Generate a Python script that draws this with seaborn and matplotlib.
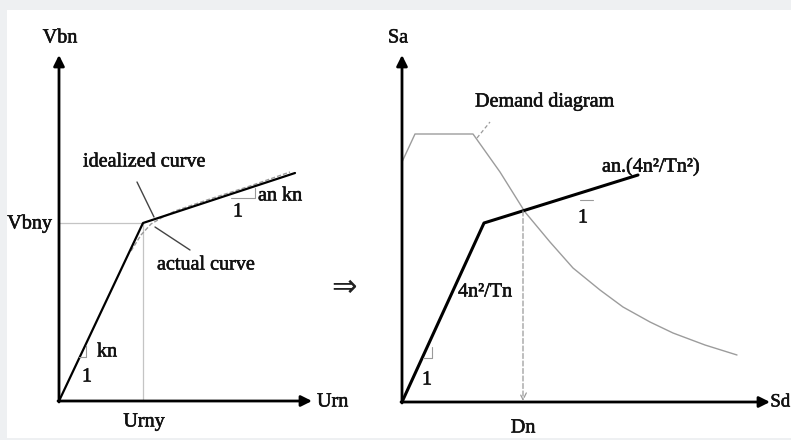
import matplotlib
matplotlib.use("Agg")
import matplotlib.pyplot as plt
import matplotlib.patheffects as pe
from matplotlib.patches import Rectangle
import seaborn as sns

sns.set_theme(style="white")
plt.rcParams["font.family"] = ["Liberation Serif", "DejaVu Sans"]

# ---- Left panel: pushover curve (base shear vs roof displacement) ----
axis_len_u, axis_len_v = 253, 346
urny, vbny = 84, 178                      # yield point
ideal_u = [0, urny, 236]
ideal_v = [0, vbny, 228]
actual_u = [72, 82, 92, 104, 116, 151, 191, 231]
actual_v = [150, 166, 177, 184, 190, 202, 215, 229]

# ---- Right panel: capacity diagram vs demand diagram (ADRS) ----
axis_len_d, axis_len_a = 368, 347
cap_d = [0, 82, 236]
cap_a = [0, 179, 227]
dem_d = [0, 13, 71, 98, 123, 148, 171, 198, 221, 248, 271, 303, 335]
dem_a = [240, 268, 268, 230, 190, 160, 134, 112, 95, 80, 69, 57, 47]
dn = 121                                  # performance point displacement
dn_sa = 191

W, H = 791, 440
fig = plt.figure(figsize=(W / 100, H / 100), dpi=100)
fig.patch.set_facecolor("#eef0f2")
fig.add_artist(Rectangle((7 / W, 2 / H), 1 - 7 / W, 428 / H,
                         transform=fig.transFigure, facecolor="white",
                         edgecolor="none", zorder=0))

FS = 14.5
TXT = dict(fontsize=FS, color="#111111",
           path_effects=[pe.withStroke(linewidth=0.4, foreground="#111111")])
axkw = dict(arrowstyle="-|>", lw=2.0, color="black", mutation_scale=16,
            shrinkA=0, shrinkB=0)


def panel(ox, oy):
    ax = fig.add_axes([0, 0, 1, 1])
    ax.set_xlim(-ox, W - ox)
    ax.set_ylim(-(H - oy), oy)
    ax.set_facecolor("none")
    ax.axis("off")
    return ax


# ================= left =================
axL = panel(59, 401)
axL.annotate("", xy=(axis_len_u, 0), xytext=(-1, 0), arrowprops=axkw)
axL.annotate("", xy=(0, axis_len_v), xytext=(0, -1), arrowprops=axkw)

axL.plot([0, urny], [vbny, vbny], color="#c4c4c4", lw=0.9)
axL.plot([urny, urny], [0, vbny], color="#c4c4c4", lw=0.9)

sns.lineplot(x=actual_u, y=actual_v, ax=axL, sort=False, estimator=None,
             color="#9a9a9a", lw=1.0, linestyle=(0, (3, 1.5)))
sns.lineplot(x=ideal_u, y=ideal_v, ax=axL, sort=False, estimator=None,
             color="black", lw=1.6)

# slope marks
axL.plot([20, 27, 27], [44, 44, 56], color="#9a9a9a", lw=0.8)
axL.plot([172, 196, 196], [203, 203, 213], color="#9a9a9a", lw=0.8)

axL.text(1, 363, "Vbn", ha="center", va="center", **TXT)
axL.text(-7, 177, "Vbny", ha="right", va="center", **TXT)
axL.text(258, -1, "Urn", ha="left", va="center", **TXT)
axL.text(urny + 1, -21, "Urny", ha="center", va="center", **TXT)
axL.text(24, 239, "idealized curve", ha="left", va="center", **TXT)
axL.plot([78, 95], [219, 184], color="#444444", lw=1.0)
axL.text(98, 136, "actual curve", ha="left", va="center", **TXT)
axL.plot([96, 131], [174, 151], color="#444444", lw=1.0)
axL.text(199, 205, "an kn", ha="left", va="center", **TXT)
axL.text(179, 189, "1", ha="center", va="center", **TXT)
axL.text(38, 49, "kn", ha="left", va="center", **TXT)
axL.text(28, 24, "1", ha="center", va="center", **TXT)

fig.text(344 / W, 1 - 287 / H, "⇒", ha="center", va="center", fontsize=22,
         family="DejaVu Sans", color="#222222")

# ================= right =================
axR = panel(402, 402)
axR.annotate("", xy=(axis_len_d, 0), xytext=(-1, 0), arrowprops=axkw)
axR.annotate("", xy=(0, axis_len_a), xytext=(0, -1), arrowprops=axkw)

sns.lineplot(x=dem_d, y=dem_a, ax=axR, sort=False, estimator=None,
             color="#9c9c9c", lw=1.0)
sns.lineplot(x=cap_d, y=cap_a, ax=axR, sort=False, estimator=None,
             color="black", lw=2.2)

axR.annotate("", xy=(dn, 1), xytext=(dn, dn_sa),
             arrowprops=dict(arrowstyle="->", lw=0.9, color="#9a9a9a",
                             linestyle=(0, (4, 2)), shrinkA=0, shrinkB=0,
                             mutation_scale=12))
axR.plot([75, 88], [264, 280], color="#9a9a9a", lw=0.9, linestyle=(0, (3, 2)))

axR.plot([21, 30, 30], [44, 44, 55], color="#9a9a9a", lw=0.8)
axR.plot([178, 191], [202, 202], color="#9a9a9a", lw=0.8)

axR.text(-4, 364, "Sa", ha="center", va="center", **TXT)
axR.text(388, 0, "Sd", ha="right", va="center", fontsize=13.5, color="#111111",
         path_effects=TXT["path_effects"])
axR.text(dn, -26, "Dn", ha="center", va="center", **TXT)
axR.text(73, 300, "Demand diagram", ha="left", va="center", **TXT)
axR.text(200, 235, "an.(4n²/Tn²)", ha="left", va="center", **TXT)
axR.text(181, 184, "1", ha="center", va="center", **TXT)
axR.text(56, 110, "4n²/Tn", ha="left", va="center", **TXT)
axR.text(25, 22, "1", ha="center", va="center", **TXT)

fig.savefig("out.png", dpi=100, facecolor=fig.get_facecolor())
